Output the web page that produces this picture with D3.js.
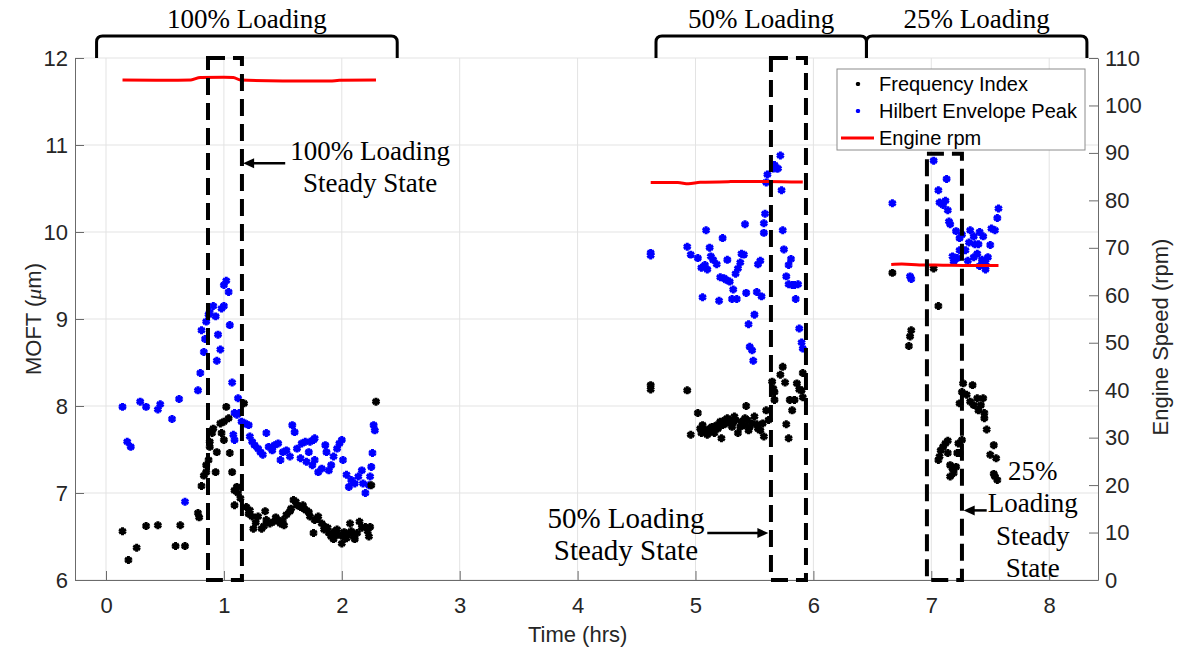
<!DOCTYPE html>
<meta charset="utf-8">
<title>MOFT vs time</title>
<style>
body { margin: 0; background: #fff; }
svg text { font-family: Arial, "Liberation Sans", sans-serif; }
.serif { font-family: "Times New Roman", "Liberation Serif", serif; }
.grid line { stroke: #e3e3e3; stroke-width: 1; }
.axis path, .axis line { stroke: #6b6b6b; }
.axis text { font-size: 22px; fill: #262626; }
</style>
<body>
<script src="https://cdn.jsdelivr.net/npm/d3@7"></script>
<script>

// time (hrs), MOFT (um) -- Frequency Index (black)
var freq100 = [[0.14,6.56],[0.19,6.23],[0.26,6.37],[0.34,6.62],[0.44,6.63],[0.59,6.39],[0.63,6.63],[0.67,6.39],
  [0.78,6.77],[0.79,6.72],[0.81,7.08],[0.83,7.20],[0.85,7.24],[0.85,7.32],[0.87,7.38],[0.88,7.53],[0.88,7.59],
  [0.90,7.69],[0.91,7.74],[0.93,7.24],[0.94,7.47],[0.97,7.80],[0.98,7.69],[1.00,7.82],[1.00,7.61],[1.02,7.99],
  [1.04,7.86],[1.05,7.46],[1.07,7.24],[1.09,6.86],[1.09,7.03],[1.11,7.07],[1.12,7.00],[1.14,6.94],[1.17,8.03],
  [1.19,6.84],[1.21,6.76],[1.22,6.80],[1.24,6.73],[1.25,6.59],[1.27,6.66],[1.29,6.73],[1.32,6.59],[1.34,6.62],
  [1.35,6.79],[1.36,6.69],[1.39,6.65],[1.42,6.67],[1.44,6.72],[1.45,6.69],[1.48,6.65],[1.50,6.69],[1.51,6.63],
  [1.53,6.75],[1.56,6.79],[1.57,6.82],[1.59,6.92],[1.61,6.90],[1.62,6.86],[1.65,6.84],[1.67,6.86],[1.68,6.82],
  [1.70,6.80],[1.72,6.78],[1.73,6.73],[1.76,6.54],[1.77,6.69],[1.79,6.70],[1.80,6.73],[1.83,6.65],[1.85,6.58],
  [1.86,6.61],[1.88,6.60],[1.89,6.54],[1.91,6.50],[1.93,6.47],[1.94,6.56],[1.96,6.58],[1.97,6.52],[2.00,6.42],
  [2.01,6.50],[2.02,6.55],[2.04,6.48],[2.06,6.53],[2.07,6.65],[2.08,6.56],[2.10,6.50],[2.11,6.47],[2.13,6.54],
  [2.15,6.67],[2.17,6.60],[2.20,6.61],[2.22,6.56],[2.23,6.50],[2.24,6.61],[2.25,7.09],[2.29,8.05]];
var freq50 = [[4.62,8.24],[4.62,8.19],[4.93,8.18],[4.96,7.67],[5.02,7.92],[5.04,7.74],[5.05,7.69],[5.06,7.78],
  [5.08,7.72],[5.10,7.67],[5.11,7.70],[5.12,7.74],[5.14,7.76],[5.15,7.72],[5.16,7.69],[5.18,7.78],[5.19,7.74],
  [5.21,7.82],[5.22,7.63],[5.23,7.78],[5.25,7.84],[5.26,7.80],[5.27,7.86],[5.29,7.84],[5.31,7.76],[5.32,7.81],
  [5.33,7.88],[5.34,7.84],[5.36,7.69],[5.38,7.76],[5.39,7.82],[5.41,7.78],[5.42,7.86],[5.43,8.00],[5.44,7.84],
  [5.45,7.72],[5.46,7.76],[5.48,7.80],[5.50,7.88],[5.52,7.79],[5.53,7.74],[5.55,7.72],[5.57,7.80],[5.58,7.65],
  [5.60,7.95],[5.62,7.84],[5.65,8.28],[5.66,8.20],[5.67,8.16],[5.67,8.07],[5.72,8.36],[5.74,8.45],[5.76,8.27],
  [5.77,7.79],[5.79,7.63],[5.80,8.07],[5.82,7.95],[5.84,8.07],[5.86,8.26],[5.88,8.19],[5.90,8.18],[5.91,8.38],[5.91,8.10]];
var freq25 = [[6.67,9.53],[6.81,8.69],[6.82,8.80],[6.83,8.87],[7.02,9.58],[7.06,9.15],[7.06,7.38],[7.07,7.42],
  [7.08,7.49],[7.10,7.53],[7.12,7.57],[7.14,7.60],[7.14,7.46],[7.16,7.32],[7.16,7.19],[7.18,7.28],[7.19,7.23],
  [7.21,7.30],[7.22,7.46],[7.23,7.57],[7.24,7.46],[7.24,8.03],[7.26,7.61],[7.26,8.16],[7.27,8.26],[7.30,8.13],
  [7.33,8.05],[7.35,8.24],[7.36,8.01],[7.39,8.09],[7.40,7.95],[7.42,8.01],[7.44,8.09],[7.45,7.86],[7.45,7.92],
  [7.47,7.73],[7.50,7.44],[7.53,7.55],[7.53,7.22],[7.54,7.19],[7.55,7.40],[7.56,7.15]];

// Hilbert Envelope Peak (blue)
var hilb100 = [[0.14,7.99],[0.18,7.59],[0.21,7.53],[0.29,8.05],[0.34,7.99],[0.44,7.96],[0.46,8.02],[0.56,7.85],
  [0.62,8.08],[0.67,6.90],[0.78,8.18],[0.80,8.38],[0.81,8.87],[0.83,8.62],[0.84,8.77],[0.85,8.97],[0.87,9.05],
  [0.88,9.08],[0.91,9.15],[0.93,9.03],[0.94,8.52],[0.95,8.82],[0.97,8.65],[0.98,9.12],[1.00,9.15],[1.00,9.39],
  [1.02,9.44],[1.04,9.31],[1.05,8.93],[1.07,8.27],[1.08,7.67],[1.09,7.61],[1.09,7.92],[1.11,7.90],[1.12,8.09],
  [1.13,7.92],[1.15,7.82],[1.18,7.80],[1.21,7.78],[1.22,7.65],[1.24,7.59],[1.26,7.55],[1.29,7.51],[1.31,7.47],
  [1.33,7.44],[1.36,7.69],[1.38,7.53],[1.41,7.49],[1.43,7.55],[1.46,7.57],[1.48,7.38],[1.50,7.47],[1.53,7.49],
  [1.56,7.42],[1.58,7.78],[1.60,7.70],[1.62,7.51],[1.65,7.40],[1.66,7.57],[1.69,7.59],[1.70,7.36],[1.72,7.47],
  [1.73,7.59],[1.75,7.32],[1.76,7.61],[1.77,7.63],[1.77,7.38],[1.80,7.24],[1.83,7.28],[1.86,7.55],[1.87,7.47],
  [1.89,7.26],[1.91,7.32],[1.93,7.42],[1.96,7.51],[1.98,7.57],[2.00,7.61],[2.01,7.38],[2.04,7.21],[2.06,7.07],
  [2.08,7.15],[2.11,7.11],[2.14,7.19],[2.17,7.26],[2.18,7.11],[2.20,7.00],[2.23,7.09],[2.24,7.19],[2.25,7.30],
  [2.26,7.46],[2.27,7.78],[2.28,7.72]];
var hilb50 = [[4.62,9.73],[4.62,9.76],[4.93,9.83],[4.96,9.74],[5.02,9.70],[5.05,9.59],[5.06,9.25],[5.08,9.62],
  [5.09,10.02],[5.10,9.57],[5.12,9.82],[5.13,9.72],[5.15,9.68],[5.18,9.63],[5.20,9.21],[5.21,9.48],[5.23,9.93],
  [5.24,9.47],[5.26,9.45],[5.27,9.68],[5.29,9.43],[5.31,9.23],[5.32,9.34],[5.34,9.52],[5.35,9.23],[5.36,9.58],
  [5.38,9.65],[5.39,9.75],[5.41,9.74],[5.42,10.09],[5.43,9.30],[5.45,8.94],[5.46,8.68],[5.48,8.64],[5.49,8.52],
  [5.50,9.05],[5.52,9.31],[5.53,9.63],[5.55,9.67],[5.56,9.26],[5.58,9.99],[5.58,10.10],[5.59,10.21],[5.60,10.57],
  [5.61,10.66],[5.66,10.73],[5.67,10.77],[5.69,10.73],[5.70,10.73],[5.72,10.88],[5.73,10.48],[5.74,10.02],
  [5.75,9.80],[5.77,9.49],[5.79,9.62],[5.79,9.40],[5.81,9.69],[5.82,9.39],[5.84,9.39],[5.85,9.23],[5.87,9.40],
  [5.88,8.89],[5.90,8.73],[5.91,8.66]];
var hilb25 = [[6.67,10.33],[6.82,9.49],[6.83,9.46],[7.02,10.82],[7.06,10.48],[7.07,10.34],[7.10,10.31],[7.12,10.36],
  [7.13,10.61],[7.14,10.25],[7.15,10.12],[7.16,10.09],[7.18,9.72],[7.19,9.66],[7.21,10.01],[7.22,9.70],[7.24,9.93],
  [7.24,9.79],[7.26,9.97],[7.29,9.79],[7.31,9.67],[7.32,9.88],[7.33,10.02],[7.36,9.71],[7.36,9.95],[7.37,9.86],
  [7.39,9.75],[7.40,9.86],[7.41,10.00],[7.41,9.61],[7.43,9.68],[7.44,9.95],[7.46,9.65],[7.46,9.57],[7.48,9.71],
  [7.50,9.85],[7.51,10.04],[7.54,10.02],[7.56,10.16],[7.57,10.27]];

// Engine rpm (red, right axis)
var rpm100 = [[0.14,105.37],[0.50,105.30],[0.72,105.37],[0.80,105.90],[1.00,105.95],[1.08,105.90],[1.14,105.37],
  [1.50,105.16],[1.90,105.16],[1.98,105.30],[2.29,105.37]];
var rpm50 = [[4.62,83.74],[4.85,83.74],[4.94,83.50],[5.04,83.80],[5.30,83.95],[5.60,84.00],[5.91,83.85]];
var rpm25 = [[6.66,66.50],[6.75,66.60],[6.90,66.40],[7.10,66.35],[7.30,66.30],[7.57,66.30]];

var xTicks = [0,1,2,3,4,5,6,7,8];
var yLeftTicks = [6,7,8,9,10,11,12];
var yRightTicks = [0,10,20,30,40,50,60,70,80,90,100,110];

// loading phases (brace spans) and steady-state windows
var phases = [["100% Loading",-0.08,2.47],["50% Loading",4.665,6.45],["25% Loading",6.45,8.32]];
var steady = [[0.865,1.153,12],[5.64,5.937,12],[6.963,7.26,10.9]];

// set the dimensions of the plot box
var W = 1182, H = 652;
var pL = 75, pR = 1098, pT = 58, pB = 580;

var x = d3.scaleLinear().domain([-0.263, 8.414]).range([pL, pR]);
var yL = d3.scaleLinear().domain([6, 12]).range([pB, pT]);
var yR = d3.scaleLinear().domain([0, 110]).range([pB, pT]);

var svg = d3.select("body").append("svg")
    .attr("width", W)
    .attr("height", H);

// grid
var grid = svg.append("g").attr("class", "grid");
grid.selectAll(".gx").data(xTicks).enter().append("line")
    .attr("x1", d => x(d)).attr("x2", d => x(d))
    .attr("y1", pT).attr("y2", pB);
grid.selectAll(".gy").data(yLeftTicks).enter().append("line")
    .attr("x1", pL).attr("x2", pR)
    .attr("y1", d => yL(d)).attr("y2", d => yL(d));

// axes (ticks point inward, matlab style)
svg.append("g").attr("class", "axis")
    .attr("transform", "translate(0," + pB + ")")
    .call(d3.axisBottom(x).tickValues(xTicks).tickFormat(d3.format("d"))
      .tickSizeInner(-9).tickSizeOuter(0).tickPadding(17));
svg.append("g").attr("class", "axis")
    .attr("transform", "translate(" + pL + ",0)")
    .call(d3.axisLeft(yL).tickValues(yLeftTicks).tickFormat(d3.format("d"))
      .tickSizeInner(-9).tickSizeOuter(0).tickPadding(7));
svg.append("g").attr("class", "axis")
    .attr("transform", "translate(" + pR + ",0)")
    .call(d3.axisRight(yR).tickValues(yRightTicks).tickFormat(d3.format("d"))
      .tickSizeInner(-9).tickSizeOuter(0).tickPadding(7));

// axis titles
var yt = svg.append("text")
    .attr("transform", "translate(41," + ((pT + pB) / 2) + ") rotate(-90)")
    .attr("text-anchor", "middle")
    .style("font-size", "22px").style("fill", "#262626");
yt.append("tspan").text("MOFT (");
yt.append("tspan").style("font-style", "italic").style("font-family", "'Times New Roman', 'Liberation Serif', serif").text("μ");
yt.append("tspan").text("m)");

svg.append("text")
    .attr("transform", "translate(1168," + ((pT + pB) / 2 + 18) + ") rotate(-90)")
    .attr("text-anchor", "middle")
    .style("font-size", "22px").style("fill", "#262626")
    .text("Engine Speed (rpm)");

svg.append("text")
    .attr("x", x(4)).attr("y", 642)
    .attr("text-anchor", "middle")
    .style("font-size", "22px").style("fill", "#262626")
    .text("Time (hrs)");

// scatter series
var star = d3.symbol().type(d3.symbolAsterisk).size(44);
function scatter(data, col) {
  svg.append("g").selectAll("path")
      .data(data)
    .enter().append("path")
      .attr("d", star)
      .attr("transform", d => "translate(" + x(d[0]) + "," + yL(d[1]) + ")")
      .style("fill", "none")
      .style("stroke", col)
      .style("stroke-width", 3);
}
scatter(hilb100, "#0000ff");
scatter(hilb50, "#0000ff");
scatter(hilb25, "#0000ff");
scatter(freq100, "#000");
scatter(freq50, "#000");
scatter(freq25, "#000");

// engine rpm lines
var rpmLine = d3.line().curve(d3.curveMonotoneX).x(d => x(d[0])).y(d => yR(d[1]));
[rpm100, rpm50, rpm25].forEach(function(r) {
  svg.append("path")
      .attr("d", rpmLine(r))
      .style("fill", "none")
      .style("stroke", "#ff0000")
      .style("stroke-width", 3);
});

// steady state boxes
svg.append("g").selectAll("rect")
    .data(steady)
  .enter().append("rect")
    .attr("x", d => x(d[0]))
    .attr("y", d => yL(d[2]))
    .attr("width", d => x(d[1]) - x(d[0]))
    .attr("height", d => yL(6) - yL(d[2]))
    .style("fill", "none")
    .style("stroke", "#000")
    .style("stroke-width", 4)
    .style("stroke-dasharray", "17,8");

// braces over the loading phases
phases.forEach(function(p) {
  var x0 = x(p[1]), x1 = x(p[2]), yb = 36, r = 6;
  svg.append("path")
      .attr("d", "M" + x0 + "," + pT + "V" + (yb + r) + "Q" + x0 + "," + yb + " " + (x0 + r) + "," + yb +
                 "H" + (x1 - r) + "Q" + x1 + "," + yb + " " + x1 + "," + (yb + r) + "V" + pT)
      .style("fill", "none")
      .style("stroke", "#000")
      .style("stroke-width", 3);
  svg.append("text").attr("class", "serif")
      .attr("x", (x0 + x1) / 2).attr("y", 28)
      .attr("text-anchor", "middle")
      .style("font-size", "27px")
      .text(p[0]);
});

// annotations: [lines, centre time, first baseline MOFT, line step px, font px]
var notes = [
  [["100% Loading", "Steady State"], 2.24, 10.83, 32, 27],
  [["50% Loading", "Steady State"], 4.41, 6.60, 32, 29],
  [["25%", "Loading", "Steady", "State"], 7.86, 7.15, 32.5, 27]
];
notes.forEach(function(n) {
  var t = svg.append("text").attr("class", "serif")
      .attr("text-anchor", "middle")
      .style("font-size", n[4] + "px");
  n[0].forEach(function(s, i) {
    t.append("tspan").attr("x", x(n[1])).attr("y", yL(n[2]) + i * n[3]).text(s);
  });
});

// arrows: [from t, to t, MOFT]
var arrows = [[1.52, 1.163, 10.79], [5.1, 5.618, 6.54], [7.47, 7.275, 6.80]];
arrows.forEach(function(a) {
  var xa = x(a[0]), xb = x(a[1]), ya = yL(a[2]);
  var dir = xb > xa ? 1 : -1;
  svg.append("line")
      .attr("x1", xa).attr("x2", xb - dir * 8).attr("y1", ya).attr("y2", ya)
      .style("stroke", "#000").style("stroke-width", 2.5);
  svg.append("path")
      .attr("d", "M" + xb + "," + ya + "L" + (xb - dir * 11) + "," + (ya - 5) + "L" + (xb - dir * 11) + "," + (ya + 5) + "Z")
      .style("fill", "#000");
});

// legend
var lg = svg.append("g").attr("transform", "translate(837,69)");
lg.append("rect")
    .attr("width", 248).attr("height", 81)
    .style("fill", "#fff").style("stroke", "#8c8c8c").style("stroke-width", 1);
var items = [["Frequency Index", "#000", "dot"], ["Hilbert Envelope Peak", "#0000ff", "dot"], ["Engine rpm", "#ff0000", "line"]];
items.forEach(function(it, i) {
  var yy = 15 + i * 27;
  if (it[2] == "dot") {
    lg.append("path")
        .attr("d", d3.symbol().type(d3.symbolAsterisk).size(12)())
        .attr("transform", "translate(21," + yy + ")")
        .style("fill", "none").style("stroke", it[1]).style("stroke-width", 2);
  } else {
    lg.append("line")
        .attr("x1", 4).attr("x2", 37).attr("y1", yy).attr("y2", yy)
        .style("stroke", it[1]).style("stroke-width", 3);
  }
  lg.append("text")
      .attr("x", 42).attr("y", yy).attr("dy", "0.35em")
      .style("font-size", "20px").style("fill", "#000")
      .text(it[0]);
});

</script>
</body>
